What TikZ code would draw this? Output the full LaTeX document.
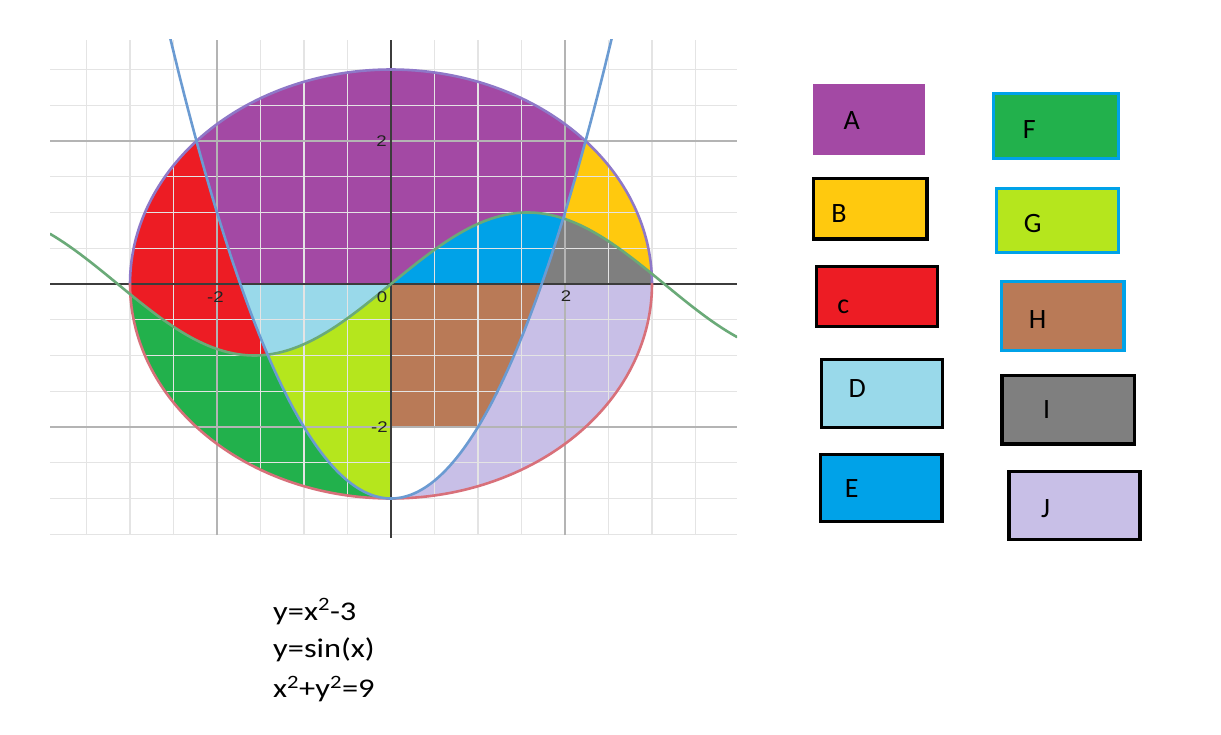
\documentclass[tikz,border=0pt]{standalone}
\usepackage{fontspec}
\setmainfont{Carlito}
\newfontfamily\eqfont[FakeStretch=1.2]{Carlito}
\newfontfamily\tickfont[FakeStretch=1.2]{Liberation Sans}
\definecolor{cA}{HTML}{A349A4}
\definecolor{cB}{HTML}{FFC90E}
\definecolor{cC}{HTML}{ED1C24}
\definecolor{cD}{HTML}{99D9EA}
\definecolor{cE}{HTML}{00A2E8}
\definecolor{cF}{HTML}{22B14C}
\definecolor{cG}{HTML}{B5E61D}
\definecolor{cH}{HTML}{B97A57}
\definecolor{cI}{HTML}{7F7F7F}
\definecolor{cJ}{HTML}{C8BFE7}
\definecolor{legblue}{HTML}{00A2E8}
\definecolor{cPar}{HTML}{6B9BD2}
\definecolor{cSin}{HTML}{6AAA78}
\definecolor{cCirU}{HTML}{8E78C8}
\definecolor{cCirL}{HTML}{D8707A}
\definecolor{gridminor}{HTML}{E4E4E4}
\definecolor{gridmajor}{HTML}{B4B4B4}
\definecolor{axiscol}{HTML}{3C3C3C}
\definecolor{ticktext}{HTML}{222222}
\tikzset{
  curve/.style={line width=2.6pt, line join=round, line cap=round},
  region/.style={draw=none},
  legbox/.style={draw=black, line width=3.3pt, inner sep=0pt},
  legboxblue/.style={draw=legblue, line width=3.3pt, inner sep=0pt},
  leglabel/.style={font=\fontsize{28}{32}\selectfont, inner sep=0pt},
  eqlabel/.style={font=\eqfont\fontsize{27}{32}\selectfont, inner sep=0pt, anchor=base west},
  ticklabel/.style={font=\tickfont\fontsize{15.5}{17}\selectfont, text=ticktext, inner sep=0pt},
  minorgrid/.style={draw=gridminor, line width=1.3pt},
  majorgrid/.style={draw=gridmajor, line width=1.3pt},
  axisline/.style={draw=axiscol, line width=2.2pt},
}
\begin{document}
\begin{tikzpicture}[x=1pt,y=-1pt]
\useasboundingbox (0,0) rectangle (1221,735);
\fill[white] (0,0) rectangle (1221,735);

\begin{scope}[shift={(391pt,-284pt)}, x=87pt, y=71.5pt, samples=60]
  % regions
  % A
  \fill[region, cA] (-2.23607,2) -- plot[domain=-2.23607:-1.73205] (\x,{(\x)*(\x)-3}) -- (0,0)
     -- plot[domain=0:1.9793] (\x,{sin(\x r)})
     -- plot[domain=1.9793:2.23607] (\x,{(\x)*(\x)-3})
     -- plot[domain=41.8103:138.1897, variable=\t] ({3*cos(\t)},{3*sin(\t)}) -- cycle;
  % B
  \fill[region, cB] plot[domain=41.8103:2.763, variable=\t] ({3*cos(\t)},{3*sin(\t)})
     -- plot[domain=2.9965:1.9793] (\x,{sin(\x r)})
     -- plot[domain=1.9793:2.23607] (\x,{(\x)*(\x)-3}) -- cycle;
  % I
  \fill[region, cI] plot[domain=1.73205:1.9793] (\x,{(\x)*(\x)-3})
     -- plot[domain=1.9793:2.9965] (\x,{sin(\x r)})
     -- plot[domain=2.763:0, variable=\t] ({3*cos(\t)},{3*sin(\t)}) -- cycle;
  % E
  \fill[region, cE] (0,0) -- plot[domain=0:1.9793] (\x,{sin(\x r)})
     -- plot[domain=1.9793:1.73205] (\x,{(\x)*(\x)-3}) -- cycle;
  % J
  \fill[region, cJ] (1.73205,0) -- plot[domain=0:-90, variable=\t] ({3*cos(\t)},{3*sin(\t)})
     -- plot[domain=0:1.73205] (\x,{(\x)*(\x)-3}) -- cycle;
  % H
  \fill[region, cH] (0,0) -- (1.73205,0) -- plot[domain=1.73205:1] (\x,{(\x)*(\x)-3})
     -- (0,-2) -- cycle;
  % G
  \fill[region, cG] (0,0) -- (0,-3) -- plot[domain=0:-1.4183] (\x,{(\x)*(\x)-3})
     -- plot[domain=-1.4183:0] (\x,{sin(\x r)}) -- cycle;
  % D
  \fill[region, cD] (-1.73205,0) -- (0,0) -- plot[domain=0:-1.4183] (\x,{sin(\x r)})
     -- plot[domain=-1.4183:-1.73205] (\x,{(\x)*(\x)-3}) -- cycle;
  % C
  \fill[region, cC] (-2.23607,2) -- plot[domain=-2.23607:-1.4183] (\x,{(\x)*(\x)-3})
     -- plot[domain=-1.4183:-2.9965] (\x,{sin(\x r)})
     -- plot[domain=182.763:138.1897, variable=\t] ({3*cos(\t)},{3*sin(\t)}) -- cycle;
  % F
  \fill[region, cF] plot[domain=-2.9965:-1.4183] (\x,{sin(\x r)})
     -- plot[domain=-1.4183:0] (\x,{(\x)*(\x)-3})
     -- plot[domain=270:182.763, variable=\t] ({3*cos(\t)},{3*sin(\t)}) -- cycle;

  % grid
  \foreach \gx in {-3.5,-3,-2.5,-1.5,-1,-0.5,0.5,1,1.5,2.5,3,3.5}
    \path[minorgrid] (\gx,-3.5105) -- (\gx,3.4126);
  \foreach \gy in {-3.5,-3,-2.5,-1.5,-1,-0.5,0.5,1,1.5,2.5,3}
    \path[minorgrid] (-3.9195,\gy) -- (3.977,\gy);
  \foreach \gx in {-2,2}
    \path[majorgrid] (\gx,-3.5105) -- (\gx,3.4126);
  \foreach \gy in {-2,2}
    \path[majorgrid] (-3.9195,\gy) -- (3.977,\gy);
  % axes
  \path[axisline] (-3.9195,0) -- (3.977,0);
  \path[axisline] (0,-3.55) -- (0,3.4126);

  % curves
  \begin{scope}
    \clip (-3.9195,-3.5105) rectangle (3.977,3.4126);
    \draw[curve, cCirU] plot[domain=0:180, samples=120, variable=\t] ({3*cos(\t)},{3*sin(\t)});
    \draw[curve, cCirL] plot[domain=180:360, samples=120, variable=\t] ({3*cos(\t)},{3*sin(\t)});
    \draw[curve, cSin] plot[domain=-3.9195:3.977, samples=140] (\x,{sin(\x r)});
    \draw[curve, cPar] plot[domain=-2.54:2.54, samples=140] (\x,{(\x)*(\x)-3});
  \end{scope}
\end{scope}

% tick labels
\node[ticklabel] (ty2) at (381.5,141.5) {2};
\node[ticklabel] (tym2) at (379.5,427.5) {-2};
\node[ticklabel] (t0) at (382,297) {0};
\node[ticklabel] (txm2) at (215.5,297) {-2};
\node[ticklabel] (tx2) at (566,296.5) {2};

% legend
\node[draw=none, fill=cA, inner sep=0pt, minimum width=112.3pt, minimum height=70.7pt] (boxA) at (868.85,119.65) {};
\node[legbox, fill=cB, minimum width=113.7pt, minimum height=60.7pt] (boxB) at (870.2,208.7) {};
\node[legbox, fill=cC, minimum width=121pt, minimum height=60pt] (boxC) at (877.15,296.65) {};
\node[legbox, fill=cD, minimum width=121pt, minimum height=68pt] (boxD) at (882.15,393.35) {};
\node[legbox, fill=cE, minimum width=121.7pt, minimum height=67.3pt] (boxE) at (881.2,488) {};
\node[legboxblue, fill=cF, minimum width=124.7pt, minimum height=65pt] (boxF) at (1056,126.15) {};
\node[legboxblue, fill=cG, minimum width=121.7pt, minimum height=64pt] (boxG) at (1057.5,220.35) {};
\node[legboxblue, fill=cH, minimum width=122.4pt, minimum height=69pt] (boxH) at (1062.85,316.15) {};
\node[legbox, fill=cI, minimum width=132.4pt, minimum height=68.4pt] (boxI) at (1068.15,409.85) {};
\node[legbox, fill=cJ, minimum width=131.1pt, minimum height=67.7pt] (boxJ) at (1074.5,505.5) {};

\node[leglabel] (labA) at (851.7,120.7) {A};
\node[leglabel] (labB) at (839,213.3) {B};
\node[leglabel] (labC) at (843.3,306.7) {c};
\node[leglabel] (labD) at (857.3,388.3) {D};
\node[leglabel] (labE) at (851.7,488.3) {E};
\node[leglabel] (labF) at (1029.3,130) {F};
\node[leglabel] (labG) at (1032.7,224) {G};
\node[leglabel] (labH) at (1037.7,320) {H};
\node[leglabel] (labI) at (1046.7,410) {I};
\node[leglabel] (labJ) at (1045.7,508.3) {J};

% equations
\node[eqlabel] (eq1) at (273,620) {y=x\textsuperscript{2}-3};
\node[eqlabel] (eq2) at (273,657.5) {y=sin(x)};
\node[eqlabel] (eq3) at (273,697.5) {x\textsuperscript{2}+y\textsuperscript{2}=9};
\end{tikzpicture}
\end{document}
